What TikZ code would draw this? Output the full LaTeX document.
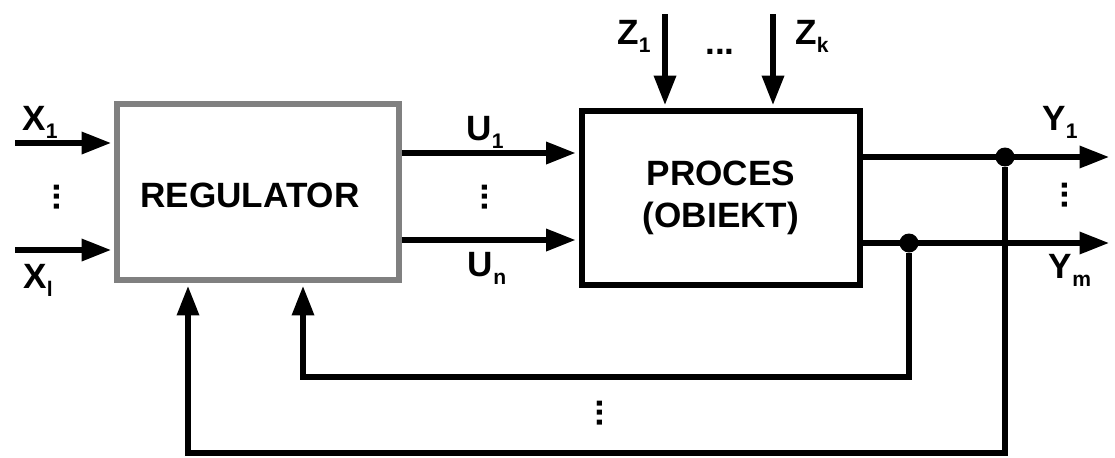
\documentclass[tikz,border=0pt]{standalone}
\usepackage{fontspec}
\setmainfont{Liberation Sans}
\usetikzlibrary{positioning, arrows.meta}
\newcommand{\lowidx}[1]{\raisebox{-4.5pt}{\fontsize{12}{12}\selectfont #1}}

\begin{document}
\begin{tikzpicture}[
        x=0.02cm, y=-0.02cm,
        every node/.style={font=\fontsize{20}{24}\selectfont\bfseries, inner sep=1pt},
        block/.style={draw, line width=3.4pt, minimum width=5.6cm, minimum height=3.5cm, align=center, inner sep=4pt},
        wire/.style={line width=3.5pt},
        sig/.style={wire, -{Triangle[length=17pt, width=12pt]}, shorten >=1.5pt},
        junction/.style={circle, fill, inner sep=0pt, minimum size=0.38cm},
        vdots/.style={rotate=90}
    ]
    \useasboundingbox (0,0) rectangle (1115,457);
    \node (reg) [block, draw=black!50, minimum width=5.64cm, minimum height=3.52cm] at (258,192) {};
    \node (regtxt) at (250,195) {REGULATOR};
    \node (proc) [block, minimum width=5.58cm, minimum height=3.48cm] at (721,198) {PROCES\\(OBIEKT)};
    \node (j1) [junction] at (1005,157) {};
    \node (jm) [junction] at (909,243) {};

    \coordinate (x1) at (15,143);
    \coordinate (xl) at (15,250);
    \coordinate (u1) at (400,153);
    \coordinate (un) at (400,240);
    \coordinate (z1) at (665,14);
    \coordinate (zk) at (773,14);
    \coordinate (y1) at (1112,157);
    \coordinate (ym) at (1112,243);
    \coordinate (fb1) at (303,377);
    \coordinate (fb2) at (188,453);

    \draw[sig] (x1) -- (x1 -| reg.west);
    \draw[sig] (xl) -- (xl -| reg.west);
    \draw[sig] (u1 -| reg.east) -- (u1 -| proc.west);
    \draw[sig] (un -| reg.east) -- (un -| proc.west);
    \draw[sig] (z1) -- (z1 |- proc.north);
    \draw[sig] (zk) -- (zk |- proc.north);
    \draw[sig] (y1 -| proc.east) -- (y1);
    \draw[sig] (ym -| proc.east) -- (ym);
    \draw[sig] (jm) |- (fb1) -- (fb1 |- reg.south);
    \draw[sig] (j1) |- (fb2) -- (fb2 |- reg.south);

    \node (lx1) at (40,122) {X\lowidx{1}};
    \node (lxl) at (38,280) {X\lowidx{l}};
    \node (lu1) at (485,132) {U\lowidx{1}};
    \node (lun) at (487,268) {U\lowidx{n}};
    \node (lz1) at (634,36) {Z\lowidx{1}};
    \node (lzk) at (812,36) {Z\lowidx{k}};
    \node (ly1) at (1060,122) {Y\lowidx{1}};
    \node (lym) at (1070,270) {Y\lowidx{m}};
    \node (dx) [vdots] at (57,197) {...};
    \node (du) [vdots] at (485,197) {...};
    \node (dz) at (720,52) {...};
    \node (dy) [vdots] at (1065,195) {...};
    \node (dfb) [vdots] at (600,413) {...};
\end{tikzpicture}
\end{document}
